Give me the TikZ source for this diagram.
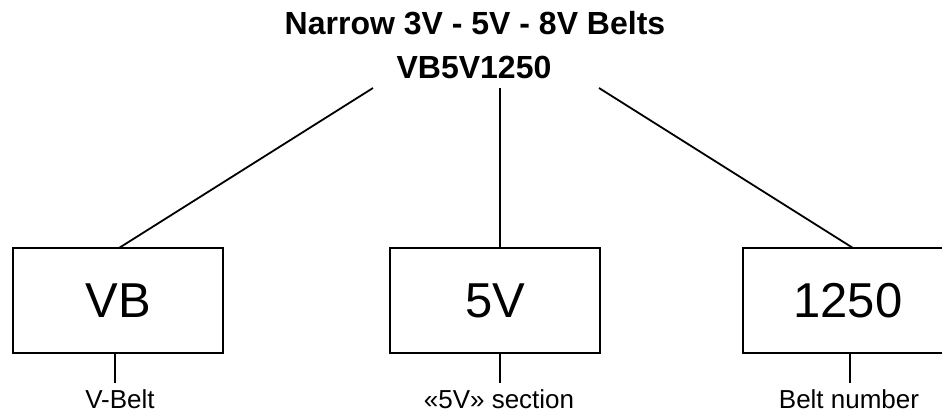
\documentclass[tikz,border=0pt]{standalone}
\usepackage{fontspec}
\setmainfont{Liberation Sans}
\begin{document}
\begin{tikzpicture}[x=1pt,y=-1pt,
  box/.style={draw,line width=2.2pt,minimum width=210pt,minimum height=105pt,inner sep=0pt,font=\fontsize{49}{54}\selectfont},
  conn/.style={line width=1.8pt},
  lbl/.style={anchor=base,inner sep=0pt,font=\fontsize{26}{30}\selectfont},
  ttl/.style={anchor=base,inner sep=0pt,font=\bfseries\fontsize{32}{38}\selectfont}]
\useasboundingbox (0,0) rectangle (942,413);
\clip (0,0) rectangle (942,413);
\node[ttl] (title1) at (475,34) {Narrow 3V - 5V - 8V Belts};
\node[ttl] (title2) at (474,78) {VB5V1250};
\node[box] (b1) at (118,300.5) {VB};
\node[box] (b2) at (495,300.5) {5V};
\node[box] (b3) at (848,300.5) {1250};
\coordinate (s1) at (373,88);
\coordinate (s2) at (500,88);
\coordinate (s3) at (599,88);
\coordinate (e1) at (119,248);
\coordinate (e2) at (500,248);
\coordinate (e3) at (853,248);
\draw[conn] (s1) -- (e1);
\draw[conn] (s2) -- (e2);
\draw[conn] (s3) -- (e3);
\node[lbl] (l1) at (120,408) {V-Belt};
\node[lbl] (l2) at (499,408) {«5V» section};
\node[lbl] (l3) at (849,408) {Belt number};
\coordinate (k1) at (115,353);
\coordinate (k2) at (500,353);
\coordinate (k3) at (850,353);
\draw[conn] (k1) -- +(0,30);
\draw[conn] (k2) -- +(0,30);
\draw[conn] (k3) -- +(0,30);
\end{tikzpicture}
\end{document}
